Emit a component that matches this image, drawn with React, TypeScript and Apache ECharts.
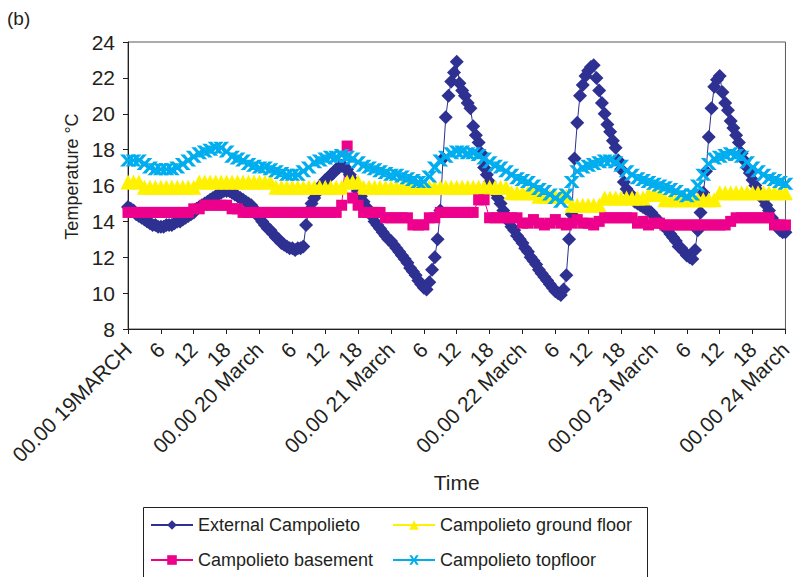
import React, { useEffect, useRef } from "react";
import * as echarts from "echarts";

const tickLabels = [
  "00.00 19MARCH", "6", "12", "18",
  "00.00 20 March", "6", "12", "18",
  "00.00 21 March", "6", "12", "18",
  "00.00 22 March", "6", "12", "18",
  "00.00 23 March", "6", "12", "18",
  "00.00 24 March",
];

const seriesNames = [
  "External Campolieto",
  "Campolieto ground floor",
  "Campolieto basement",
  "Campolieto topfloor",
];

// External temperature, one reading every half hour from 00.00 19 March
const externalHalfHourly = [
  14.8, 14.7, 14.6, 14.4, 14.3, 14.2, 14.1, 14.0, 13.9, 13.8, 13.8, 13.7, 13.7, 13.7, 13.8, 13.8,
  13.8, 13.9, 14.0, 14.0, 14.1, 14.2, 14.3, 14.4, 14.5, 14.7, 14.8, 14.9, 15.0, 15.1, 15.2, 15.3,
  15.4, 15.5, 15.6, 15.7, 15.7, 15.7, 15.6, 15.5, 15.4, 15.3, 15.2, 15.1, 15.0, 14.9, 14.7, 14.5,
  14.2,
  14.0, 13.8, 13.6, 13.5, 13.3, 13.1, 13.0, 12.8, 12.7, 12.6, 12.5, 12.5, 12.4, 12.5, 12.5, 12.6,
  13.8, 14.6, 15.0, 15.3, 15.6, 15.9, 16.1, 16.3, 16.4, 16.6, 16.7, 16.9, 17.0, 17.1, 17.0, 16.9,
  16.6, 16.3, 16.0, 15.7, 15.4, 15.1, 14.8, 14.5, 14.3, 14.0, 13.8, 13.6, 13.4, 13.2, 13.0, 12.9,
  12.7, 12.5, 12.3, 12.1, 11.9, 11.7, 11.4, 11.2, 11.0, 10.7, 10.5, 10.3, 10.2, 10.6, 11.3, 12.0,
  13.0, 14.6, 17.5, 19.8, 21.0, 21.8, 22.3, 22.9, 21.7, 21.3, 21.0, 20.6, 20.3, 19.3, 18.8, 18.4,
  17.8, 17.0, 16.6, 16.2, 15.9, 15.6, 15.3, 15.0, 14.6, 14.3, 14.0, 13.7, 13.5, 13.2, 13.0, 12.8,
  12.5, 12.3, 12.0, 11.8, 11.6, 11.3, 11.1, 10.9, 10.7, 10.5, 10.3, 10.1, 10.0, 9.9, 10.2, 11.0,
  13.0, 14.4, 17.5, 19.5, 21.0, 21.6, 22.1, 22.4, 22.6, 22.7, 22.0, 21.3, 20.6, 20.0, 19.4, 19.0,
  18.5, 18.1, 17.4, 16.9, 16.2, 15.8, 15.6, 15.3, 15.1, 15.0, 14.9, 14.8, 14.7, 14.6, 14.5, 14.3,
  14.1, 14.0, 13.8, 13.7, 13.5, 13.3, 13.1, 12.9, 12.6, 12.5, 12.3, 12.1, 12.0, 11.9, 12.4, 13.5,
  14.5, 15.6, 16.8, 18.7, 20.3, 21.5, 21.9, 22.1, 21.2, 20.6, 20.2, 19.6, 19.2, 18.8, 18.4, 17.8,
  17.4, 17.0, 16.7, 16.3, 16.0, 15.7, 15.4, 15.2, 14.9, 14.6, 14.2, 14.0, 13.7, 13.5, 13.4, 13.4,
];

// Hourly readings from 00.00 19 March to 00.00 24 March
const groundFloorHourly = [
  16.2, 16.2, 16.2, 15.9, 15.9, 15.9, 15.9, 15.9, 15.9, 15.9, 15.9, 15.9, 15.9, 16.2, 16.2, 16.2,
  16.2, 16.2, 16.2, 16.2, 16.2, 16.2, 16.2, 16.2, 16.2, 16.2, 16.2, 15.9, 15.9, 15.9, 15.9, 15.9,
  15.9, 15.9, 15.9, 15.9, 15.9, 15.9, 15.9, 15.9, 16.2, 16.2, 16.2, 15.9, 15.9, 15.9, 15.9, 15.9,
  15.9, 15.9, 15.9, 15.9, 15.9, 15.9, 15.9, 15.9, 15.9, 15.9, 15.9, 15.9, 15.9, 15.9, 15.9, 15.9,
  15.9, 15.9, 15.9, 15.9, 15.9, 15.9, 15.6, 15.6, 15.6, 15.6, 15.6, 15.4, 15.4, 15.4, 15.4, 15.4,
  15.4, 14.9, 14.9, 14.9, 14.9, 14.9, 14.9, 15.3, 15.3, 15.3, 15.3, 15.3, 15.3, 15.3, 15.3, 15.5,
  15.5, 15.5, 15.2, 15.2, 15.2, 15.2, 15.2, 15.2, 15.2, 15.2, 15.2, 15.2, 15.6, 15.6, 15.6, 15.6,
  15.6, 15.6, 15.6, 15.6, 15.6, 15.6, 15.6, 15.6, 15.6,
];

const basementHourly = [
  14.5, 14.5, 14.5, 14.5, 14.5, 14.5, 14.5, 14.5, 14.5, 14.5, 14.5, 14.5, 14.7, 14.7, 14.9, 14.9,
  14.9, 14.9, 14.9, 14.7, 14.7, 14.5, 14.5, 14.5, 14.5, 14.5, 14.5, 14.5, 14.5, 14.5, 14.5, 14.5,
  14.5, 14.5, 14.5, 14.5, 14.5, 14.5, 14.5, 14.9, 18.2, 15.3, 14.9, 14.5, 14.5, 14.5, 14.5, 14.2,
  14.2, 14.2, 14.2, 14.2, 13.8, 13.8, 13.8, 14.2, 14.2, 14.5, 14.5, 14.5, 14.5, 14.5, 14.5, 14.5,
  15.2, 15.2, 14.2, 14.2, 14.2, 14.2, 14.2, 14.2, 13.9, 13.9, 14.1, 13.9, 13.8, 13.9, 14.1, 13.9,
  13.8, 13.9, 14.1, 13.9, 13.9, 13.8, 14.0, 14.2, 14.2, 14.2, 14.2, 14.2, 14.2, 13.9, 14.0, 13.8,
  13.9, 13.9, 13.8, 13.8, 13.8, 13.8, 13.8, 13.8, 13.8, 13.8, 13.8, 13.8, 13.8, 13.8, 14.0, 14.2,
  14.2, 14.2, 14.2, 14.2, 14.2, 14.2, 13.8, 13.8, 13.8,
];

const topFloorHourly = [
  17.4, 17.4, 17.4, 17.2, 17.0, 16.9, 16.9, 16.9, 16.9, 17.0, 17.2, 17.4, 17.6, 17.8, 17.9, 18.0,
  18.1, 18.1, 17.9, 17.6, 17.5, 17.4, 17.2, 17.1, 17.0,
  17.0, 16.9, 16.8, 16.7, 16.6, 16.6, 16.6, 16.8, 17.0, 17.3, 17.4, 17.5, 17.6, 17.6, 17.7, 17.6,
  17.5, 17.3, 17.1, 17.0, 16.9, 16.8, 16.7, 16.6,
  16.6, 16.5, 16.4, 16.3, 16.2, 16.2, 16.5, 17.0, 17.4, 17.6, 17.8, 17.9, 17.9, 17.8, 17.8, 17.7,
  17.5, 17.3, 17.1, 17.0, 16.8, 16.6, 16.4, 16.3,
  16.2, 16.0, 15.8, 15.7, 15.5, 15.3, 15.1, 15.5, 16.2, 16.8, 17.0, 17.1, 17.2, 17.3, 17.4, 17.4,
  17.3, 17.1, 16.8, 16.6, 16.4, 16.3, 16.2, 16.1,
  16.0, 15.9, 15.8, 15.7, 15.5, 15.4, 15.5, 16.0, 16.6, 17.2, 17.5, 17.6, 17.7, 17.8, 17.7, 17.6,
  17.3, 17.0, 16.8, 16.6, 16.4, 16.3, 16.2, 16.1,
];

const FONT = "'Liberation Sans', Arial, Helvetica, sans-serif";
const TEXT = "#231F20";

export default function App() {
  const ref = useRef<HTMLDivElement>(null);

  useEffect(() => {
    if (!ref.current) return;
    const chart = echarts.init(ref.current, undefined, { renderer: "svg" });

    const ext = externalHalfHourly.map((v, i) => [i * 0.5, v]);
    const hourly = (arr: number[]) => arr.map((v, i) => [i, v]);
    const xSymbol =
      "path://M0,0 L4.5,0 L8,3.6 L11.5,0 L16,0 L10.5,5 L16,10 L11.5,10 L8,6.4 L4.5,10 L0,10 L5.5,5 Z";

    const legendBase = {
      orient: "horizontal",
      padding: 0,
      itemWidth: 42,
      itemHeight: 12,
      itemGap: 0,
      selectedMode: false,
      textStyle: { fontFamily: FONT, fontSize: 18, color: TEXT },
    };

    chart.setOption({
      animation: false,
      backgroundColor: "#ffffff",
      grid: {
        left: 128,
        right: 2,
        top: 42,
        bottom: 248,
        show: true,
        borderColor: "#58595B",
        borderWidth: 1,
        backgroundColor: "transparent",
      },
      xAxis: {
        type: "value",
        min: 0,
        max: 120,
        interval: 6,
        name: "Time",
        nameLocation: "middle",
        nameGap: 143,
        nameTextStyle: { fontFamily: FONT, fontSize: 21, color: TEXT },
        axisLine: { show: true, onZero: false, lineStyle: { color: TEXT, width: 1 } },
        axisTick: { show: true, length: 5, lineStyle: { color: TEXT } },
        splitLine: { show: false },
        axisLabel: {
          rotate: 45,
          margin: 17,
          fontFamily: FONT,
          fontSize: 21,
          color: TEXT,
          showMinLabel: true,
          showMaxLabel: true,
          formatter: (v: number) => tickLabels[Math.round(v / 6)] ?? "",
        },
      },
      yAxis: {
        type: "value",
        min: 8,
        max: 24,
        interval: 2,
        name: "Temperature °C",
        nameLocation: "middle",
        nameGap: 45,
        nameRotate: 90,
        nameTextStyle: { fontFamily: FONT, fontSize: 18, color: TEXT, padding: [0, 0, 0, 18] },
        axisLine: { show: true, lineStyle: { color: TEXT, width: 1 } },
        axisTick: { show: true, length: 5, lineStyle: { color: TEXT } },
        splitLine: { show: false },
        axisLabel: { margin: 13, fontFamily: FONT, fontSize: 21, color: TEXT },
      },
      legend: [
        { ...legendBase, data: [seriesNames[0]], left: 150, top: 516 },
        { ...legendBase, data: [seriesNames[1]], left: 392, top: 516 },
        { ...legendBase, data: [seriesNames[2]], left: 150, top: 551 },
        { ...legendBase, data: [seriesNames[3]], left: 392, top: 551 },
      ],
      graphic: [
        {
          type: "rect",
          silent: true,
          shape: { x: 143.5, y: 507.5, width: 504, height: 100 },
          style: { fill: "none", stroke: TEXT, lineWidth: 1 },
        },
        {
          type: "text",
          left: 7,
          top: 9,
          style: { text: "(b)", fontFamily: FONT, fontSize: 19, fill: TEXT },
        },
      ],
      series: [
        {
          name: seriesNames[0],
          type: "line",
          data: ext,
          symbol: "diamond",
          symbolSize: 14,
          itemStyle: { color: "#2E3192" },
          lineStyle: { color: "#2E3192", width: 1 },
        },
        {
          name: seriesNames[1],
          type: "line",
          data: hourly(groundFloorHourly),
          symbol: "triangle",
          symbolSize: 15,
          itemStyle: { color: "#FFF200" },
          lineStyle: { color: "#FFF200", width: 1 },
        },
        {
          name: seriesNames[2],
          type: "line",
          data: hourly(basementHourly),
          symbol: "rect",
          symbolSize: 11,
          itemStyle: { color: "#EC008C" },
          lineStyle: { color: "#EC008C", width: 1 },
        },
        {
          name: seriesNames[3],
          type: "line",
          data: hourly(topFloorHourly),
          symbol: xSymbol,
          symbolSize: [16, 12],
          itemStyle: { color: "#00AEEF" },
          lineStyle: { color: "#00AEEF", width: 1 },
        },
      ],
    });

    return () => chart.dispose();
  }, []);

  return (
    <div
      ref={ref}
      style={{ position: "fixed", left: 0, top: 0, width: 795, height: 577 }}
    />
  );
}
